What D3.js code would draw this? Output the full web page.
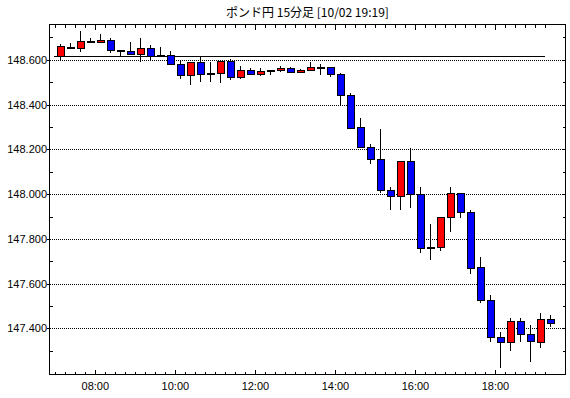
<!DOCTYPE html>
<html>
<head>
<meta charset="utf-8">
<script src="https://cdn.jsdelivr.net/npm/d3@7"></script>
<style>
  body { margin: 0; background: #fff; }
  svg { display: block; }
  line, rect { shape-rendering: crispEdges; }
  .tick-label { font-family: "Liberation Sans", Arial, sans-serif; font-size: 11px; fill: #000; }
  .title { font-family: "Noto Sans CJK JP", sans-serif; font-size: 12px; fill: #000; }
</style>
</head>
<body>
<svg id="chart" width="570" height="398"></svg>
<script>
"use strict";

// 15-minute candles, GBP/JPY
const times = [
  "07:00", "07:15", "07:30", "07:45", "08:00", "08:15", "08:30", "08:45",
  "09:00", "09:15", "09:30", "09:45", "10:00", "10:15", "10:30", "10:45",
  "11:00", "11:15", "11:30", "11:45", "12:00", "12:15", "12:30", "12:45",
  "13:00", "13:15", "13:30", "13:45", "14:00", "14:15", "14:30", "14:45",
  "15:00", "15:15", "15:30", "15:45", "16:00", "16:15", "16:30", "16:45",
  "17:00", "17:15", "17:30", "17:45", "18:00", "18:15", "18:30", "18:45",
  "19:00", "19:15"
];
const open = [
  148.617, 148.657, 148.654, 148.684, 148.681, 148.690, 148.644, 148.641,
  148.626, 148.654, 148.623, 148.623, 148.583, 148.534, 148.592, 148.541,
  148.541, 148.596, 148.523, 148.556, 148.537, 148.555, 148.555, 148.565,
  148.546, 148.555, 148.570, 148.570, 148.538, 148.445, 148.298, 148.211,
  148.155, 148.017, 147.990, 148.146, 148.000, 147.764, 147.765, 147.896,
  148.003, 147.918, 147.673, 147.527, 147.361, 147.339, 147.435, 147.374,
  147.341, 147.441
];
const high = [
  148.670, 148.677, 148.727, 148.699, 148.714, 148.699, 148.644, 148.681,
  148.696, 148.665, 148.656, 148.641, 148.601, 148.592, 148.612, 148.592,
  148.596, 148.605, 148.571, 148.565, 148.565, 148.555, 148.574, 148.570,
  148.561, 148.589, 148.583, 148.570, 148.543, 148.454, 148.338, 148.226,
  148.290, 148.031, 148.146, 148.204, 148.030, 147.865, 147.896, 148.030,
  148.003, 147.929, 147.718, 147.550, 147.383, 147.446, 147.446, 147.416,
  147.470, 147.462
];
const low = [
  148.600, 148.648, 148.635, 148.675, 148.681, 148.630, 148.617, 148.621,
  148.590, 148.600, 148.611, 148.579, 148.513, 148.486, 148.501, 148.501,
  148.497, 148.509, 148.514, 148.534, 148.530, 148.532, 148.546, 148.541,
  148.541, 148.550, 148.532, 148.523, 148.400, 148.291, 148.207, 148.133,
  148.006, 147.929, 147.929, 147.939, 147.735, 147.707, 147.747, 147.832,
  147.894, 147.642, 147.513, 147.337, 147.223, 147.297, 147.337, 147.252,
  147.313, 147.408
];
const close = [
  148.660, 148.657, 148.686, 148.684, 148.690, 148.645, 148.644, 148.626,
  148.654, 148.619, 148.623, 148.583, 148.534, 148.592, 148.538, 148.541,
  148.596, 148.525, 148.556, 148.537, 148.550, 148.555, 148.565, 148.546,
  148.556, 148.570, 148.570, 148.537, 148.445, 148.296, 148.211, 148.155,
  148.017, 147.990, 148.146, 148.000, 147.760, 147.764, 147.896, 148.003,
  147.918, 147.671, 147.527, 147.361, 147.339, 147.435, 147.374, 147.343,
  147.441, 147.423
];
const yLabels = [147.4, 147.6, 147.8, 148.0, 148.2, 148.4, 148.6];
const yMinor = [147.3, 147.5, 147.7, 147.9, 148.1, 148.3, 148.5, 148.7];
const xLabels = ["08:00", "10:00", "12:00", "14:00", "16:00", "18:00"];
const refLine = 148.616;
const title = "ポンド円 15分足 [10/02 19:19]";

const frame = { left: 49.5, right: 565.5, top: 24.5, bottom: 374.5 };

const parse = d3.timeParse("%H:%M:%S");
const t = s => parse(s.length === 5 ? s + ":00" : s);
const half = 7.5 * 60 * 1000; // candles sit in the middle of their 15 min slot

const candles = times.map((s, i) => ({
  time: t(s), o: open[i], h: high[i], l: low[i], c: close[i]
}));

const x = d3.scaleTime()
  .domain([t("06:51:15"), t("19:45:00")])
  .range([frame.left, frame.right]);
const y = d3.scaleLinear()
  .domain([147.194, 148.758])
  .range([frame.bottom, frame.top]);
const py = d => Math.round(y(d)) + 0.5;

const svg = d3.select("#chart");

svg.append("text").attr("class", "title")
  .attr("x", (frame.left + frame.right) / 2).attr("y", 17)
  .attr("text-anchor", "middle")
  .text(title);

// dotted grid
svg.append("g").selectAll("line").data(yLabels).join("line")
  .attr("x1", frame.left).attr("x2", frame.right)
  .attr("y1", py).attr("y2", py)
  .attr("stroke", "#000").attr("stroke-dasharray", "1,1");

// reference line
svg.append("line")
  .attr("x1", x(candles[0].time) - 1).attr("x2", x(candles[candles.length - 1].time))
  .attr("y1", py(refLine)).attr("y2", py(refLine))
  .attr("stroke", "#000");

// candles
const g = svg.append("g");
candles.forEach(d => {
  const cx = Math.round(x(new Date(+d.time + half))) + 0.5;
  g.append("line")
    .attr("x1", cx).attr("x2", cx)
    .attr("y1", y(d.h)).attr("y2", y(d.l))
    .attr("stroke", "#000");
  const y0 = py(Math.max(d.o, d.c));
  const y1 = py(Math.min(d.o, d.c));
  const fill = d.c > d.o ? "#ff0000" : d.c < d.o ? "#0000ff" : "#000";
  g.append("rect")
    .attr("x", cx - 3.5).attr("width", 7)
    .attr("y", y0).attr("height", Math.max(1, y1 - y0))
    .attr("fill", fill).attr("stroke", "#000");
});

// frame
svg.append("rect")
  .attr("x", frame.left).attr("y", frame.top)
  .attr("width", frame.right - frame.left).attr("height", frame.bottom - frame.top)
  .attr("fill", "none").attr("stroke", "#000");

// time ticks, bottom (pointing up) and top (pointing down)
const isMajor = d => xLabels.indexOf(d3.timeFormat("%H:%M")(d)) >= 0;
const tickX = d => Math.round(x(d)) + 0.5;
svg.append("g").selectAll("line").data(candles.map(d => d.time)).join("line")
  .attr("x1", tickX).attr("x2", tickX)
  .attr("y1", frame.bottom).attr("y2", d => frame.bottom - (isMajor(d) ? 5 : 3))
  .attr("stroke", "#000");
svg.append("g").selectAll("line").data(candles.map(d => d.time)).join("line")
  .attr("x1", tickX).attr("x2", tickX)
  .attr("y1", frame.top).attr("y2", d => frame.top + (isMajor(d) ? 5 : 3))
  .attr("stroke", "#000");

svg.append("g").selectAll("text").data(xLabels).join("text")
  .attr("class", "tick-label")
  .attr("x", d => x(t(d)))
  .attr("y", 390)
  .attr("text-anchor", "middle")
  .text(d => d);

// price axis, left
const yl = svg.append("g");
yl.selectAll("line.major").data(yLabels).join("line").attr("class", "major")
  .attr("x1", frame.left - 3).attr("x2", frame.left)
  .attr("y1", py).attr("y2", py)
  .attr("stroke", "#000");
yl.selectAll("line.minor").data(yMinor).join("line").attr("class", "minor")
  .attr("x1", frame.left).attr("x2", frame.left + 3)
  .attr("y1", py).attr("y2", py)
  .attr("stroke", "#000");
yl.selectAll("text").data(yLabels).join("text")
  .attr("class", "tick-label")
  .attr("x", frame.left - 2.5).attr("y", d => y(d) + 4)
  .attr("text-anchor", "end")
  .text(d => d3.format(".3f")(d));

// price axis, right (inside ticks every 0.1)
svg.append("g").selectAll("line").data(yLabels.concat(yMinor)).join("line")
  .attr("x1", frame.right - 3).attr("x2", frame.right)
  .attr("y1", py).attr("y2", py)
  .attr("stroke", "#000");
</script>
</body>
</html>
